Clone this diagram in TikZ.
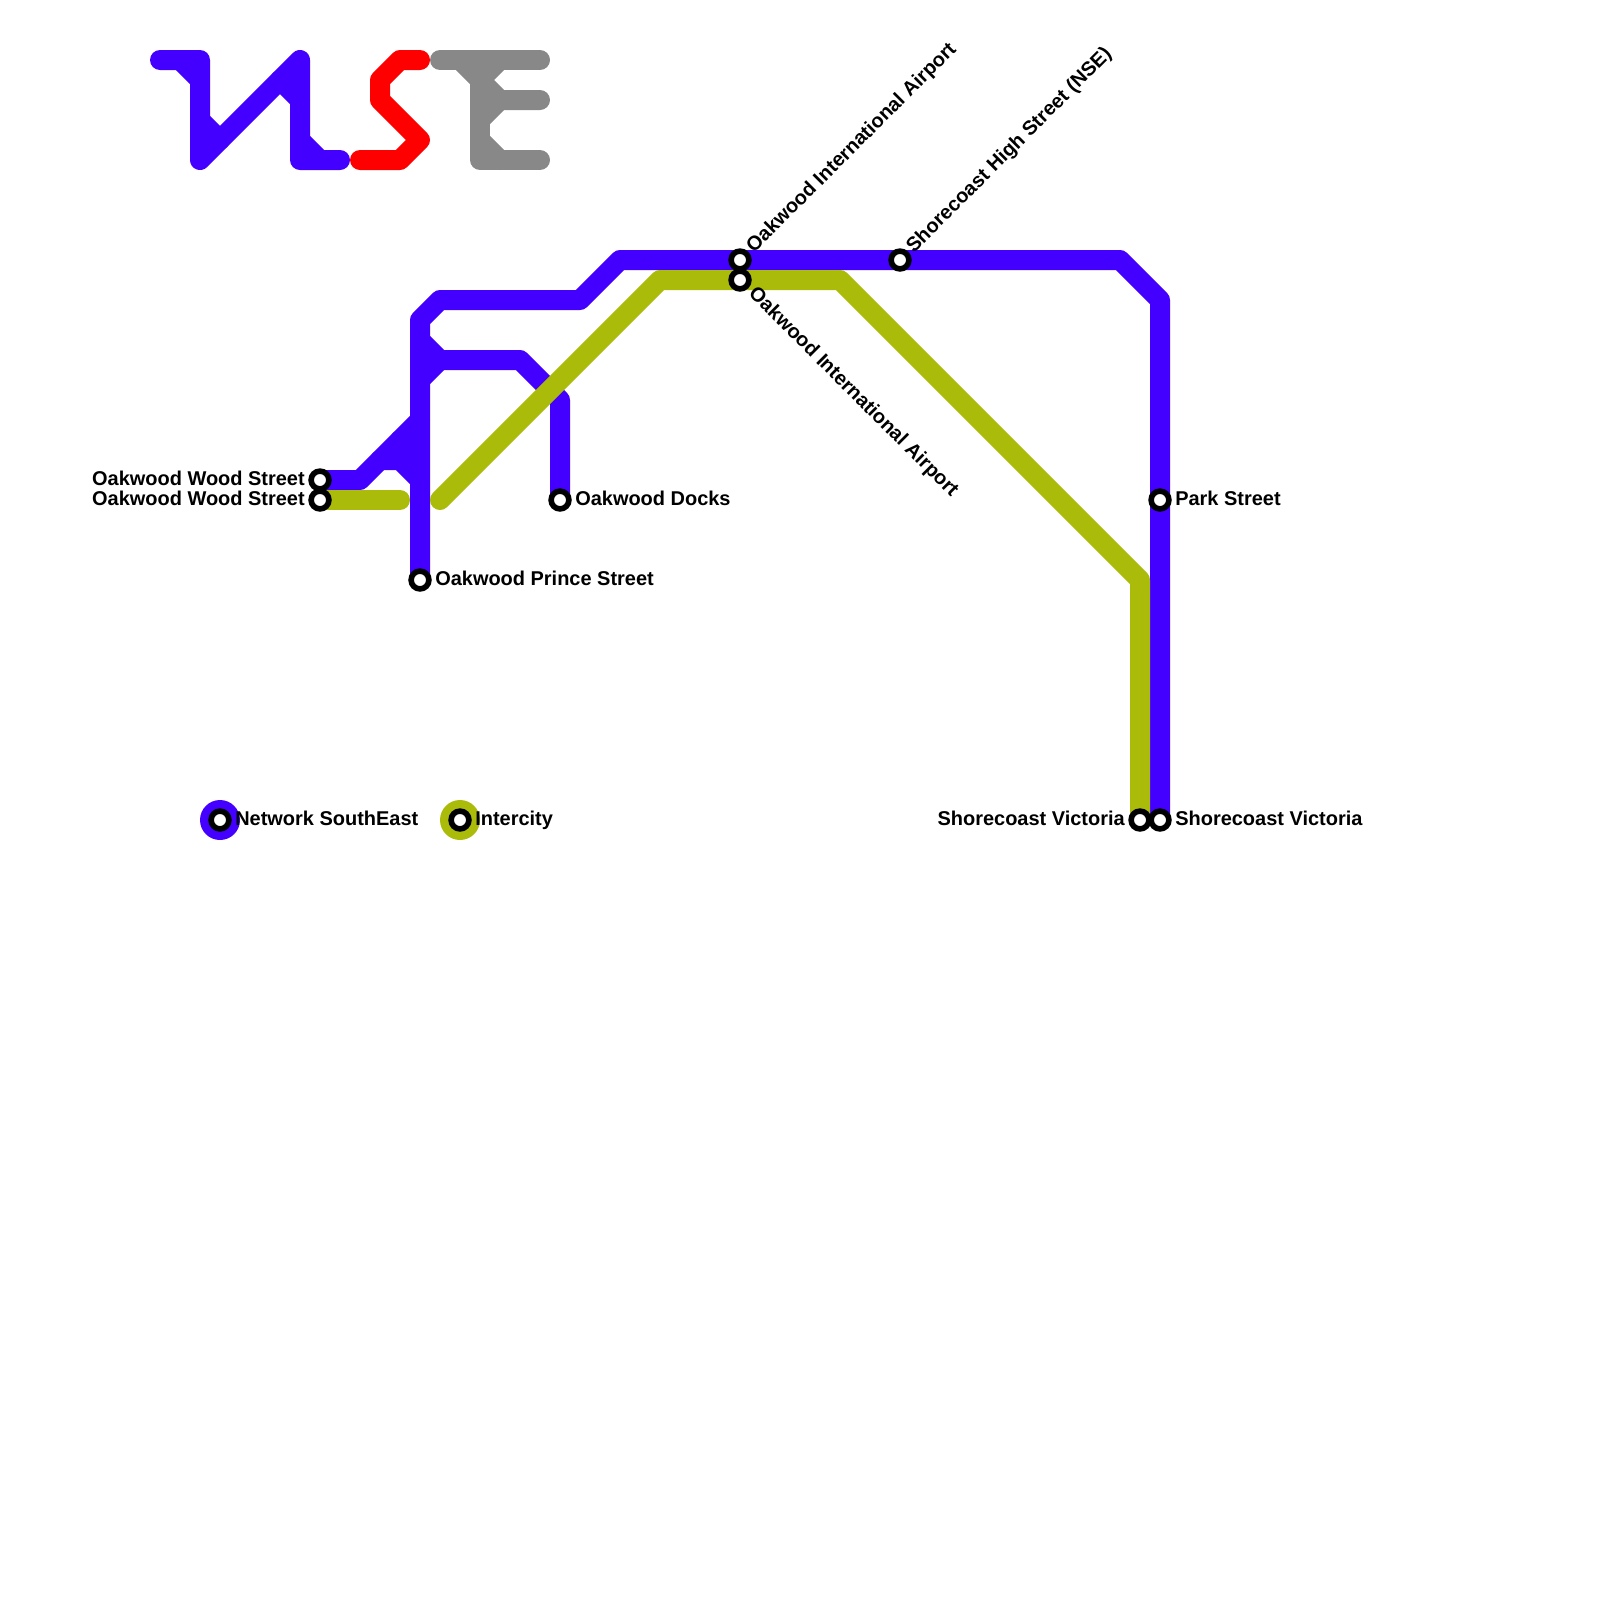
\documentclass[tikz,border=0pt]{standalone}
\usepackage{fontspec}
\setmainfont{Liberation Sans}
\usepackage{xcolor}
\usetikzlibrary{positioning}
\definecolor{nseblue}{RGB}{68,0,255}
\definecolor{icgreen}{RGB}{170,187,10}
\definecolor{logored}{RGB}{255,0,0}
\definecolor{logogray}{RGB}{136,136,136}
\tikzset{
    route/.style={line width=5mm, line cap=round, line join=round},
    stn/.style={circle, draw=black, fill=white, line width=1.4mm, minimum size=4.45mm, inner sep=0pt},
    keydot/.style={circle, minimum size=10mm, inner sep=0pt},
    stnlabel/.style={inner sep=0pt, text=black, text height=0.72em, text depth=0pt, font=\fontsize{14.2}{16}\selectfont\bfseries},
}

\begin{document}
\begin{tikzpicture}[x=5mm,y=-5mm]
    \useasboundingbox (0,0) rectangle (80,80);

    % Station positions
    \coordinate (woodA) at (16,24);
    \coordinate (woodB) at (16,25);
    \coordinate (prince) at (21,29);
    \coordinate (docks) at (28,25);
    \coordinate (airportA) at (37,13);
    \coordinate (airportB) at (37,14);
    \coordinate (high) at (45,13);
    \coordinate (park) at (58,25);
    \coordinate (victA) at (57,41);
    \coordinate (victB) at (58,41);

    % Logo letters
    \draw[route, nseblue] (8,3) -- (10,3) -- (10,8) -- (15,3) -- (15,8) -- (17,8);
    \draw[route, nseblue] (9,3) -- (10,4);
    \draw[route, nseblue] (10,6) -- (11,7);
    \draw[route, nseblue] (14,4) -- (15,5);
    \draw[route, nseblue] (15,7) -- (16,8);
    \draw[route, logored] (18,8) -- (20,8) -- (21,7) -- (19,5) -- (19,4) -- (20,3) -- (21,3);
    \draw[route, logogray] (22,3) -- (27,3);
    \draw[route, logogray] (24,3) -- (24,8) -- (27,8);
    \draw[route, logogray] (23,3) -- (25,5) -- (27,5);
    \draw[route, logogray] (25,3) -- (24,4);
    \draw[route, logogray] (25,5) -- (24,6);
    \draw[route, logogray] (24,7) -- (25,8);

    % Network SouthEast
    \draw[route, nseblue] (prince) -- (21,16) -- (22,15) -- (29,15) -- (31,13) -- (56,13) -- (58,15) -- (victB);
    \draw[route, nseblue] (21,17) -- (22,18) -- (26,18) -- (28,20) -- (docks);
    \draw[route, nseblue] (21,19) -- (22,18);
    \draw[route, nseblue] (woodA) -- (18,24) -- (21,21);
    \draw[route, nseblue] (19,23) -- (20,23) -- (21,24);
    \draw[route, nseblue] (20,22) -- (20,23);

    % Intercity
    \draw[route, icgreen] (woodB) -- (20,25);
    \draw[route, icgreen] (22,25) -- (33,14) -- (42,14) -- (57,29) -- (victA);

    % Stations
    \node[stn] (woodAstn) at (woodA) {};
    \node[stn] (woodBstn) at (woodB) {};
    \node[stn] (princestn) at (prince) {};
    \node[stn] (docksstn) at (docks) {};
    \node[stn] (airportAstn) at (airportA) {};
    \node[stn] (airportBstn) at (airportB) {};
    \node[stn] (highstn) at (high) {};
    \node[stn] (parkstn) at (park) {};
    \node[stn] (victAstn) at (victA) {};
    \node[stn] (victBstn) at (victB) {};

    % Station labels
    \node[stnlabel, anchor=east] (woodAname) at (15.25,24) {Oakwood Wood Street};
    \node[stnlabel, anchor=east] (woodBname) at (15.25,25) {Oakwood Wood Street};
    \node[stnlabel, anchor=west] (princename) at (21.75,29) {Oakwood Prince Street};
    \node[stnlabel, anchor=west] (docksname) at (28.75,25) {Oakwood Docks};
    \node[stnlabel, anchor=south west, rotate=45] (airportAname) at (37.7,12.7) {Oakwood International Airport};
    \node[stnlabel, anchor=north west, rotate=-45] (airportBname) at (37.75,14.35) {Oakwood International Airport};
    \node[stnlabel, anchor=south west, rotate=45] (highname) at (45.7,12.7) {Shorecoast High Street (NSE)};
    \node[stnlabel, anchor=west] (parkname) at (58.75,25) {Park Street};
    \node[stnlabel, anchor=east] (victAname) at (56.25,41) {Shorecoast Victoria};
    \node[stnlabel, anchor=west] (victBname) at (58.75,41) {Shorecoast Victoria};

    % Key
    \node[keydot, fill=nseblue] (keynse) at (11,41) {};
    \node[stn] (keynsestn) at (keynse) {};
    \node[stnlabel, anchor=west] (keynsename) at (11.75,41) {Network SouthEast};
    \node[keydot, fill=icgreen] (keyic) at (23,41) {};
    \node[stn] (keyicstn) at (keyic) {};
    \node[stnlabel, anchor=west] (keyicname) at (23.75,41) {Intercity};
\end{tikzpicture}
\end{document}
